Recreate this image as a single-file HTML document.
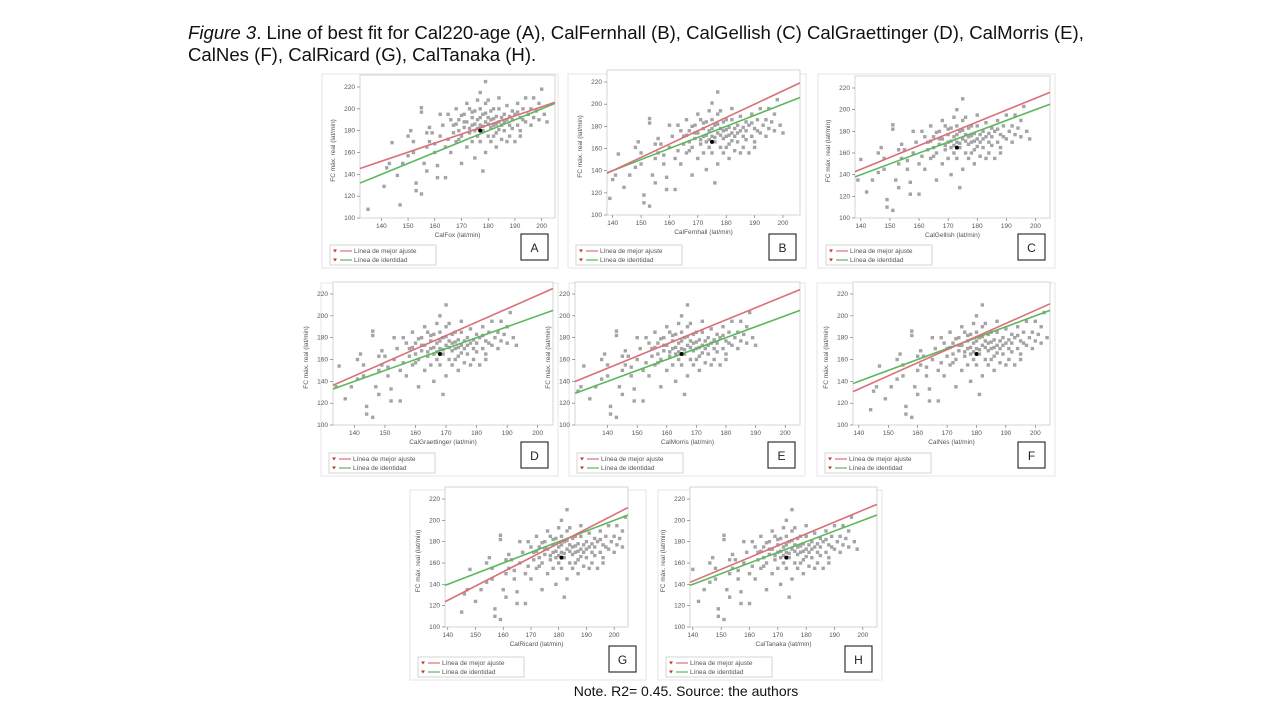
<!DOCTYPE html>
<html><head><meta charset="utf-8">
<style>
body{margin:0;background:#fff;}
svg{display:block;font-family:"Liberation Sans",sans-serif;}
</style></head>
<body>
<svg id="fig" width="1280" height="720">
<text x="188" y="39" font-size="18.6" fill="#111"><tspan font-style="italic">Figure 3</tspan>. Line of best fit for Cal220-age (A), CalFernhall (B), CalGellish (C) CalGraettinger (D), CalMorris (E),</text>
<text x="188" y="61" font-size="18.6" fill="#111">CalNes (F), CalRicard (G), CalTanaka (H).</text>
<text x="686" y="696" font-size="14" text-anchor="middle" fill="#111">Note. R2= 0.45. Source: the authors</text>
<g id="panels"></g>
</svg>
<script>
// panel meta
const letters=["A","B","C","D","E","F","G","H"];
const xTitles=["CalFox (lat/min)","CalFernhall (lat/min)","CalGellish (lat/min)","CalGraettinger (lat/min)","CalMorris (lat/min)","CalNes (lat/min)","CalRicard (lat/min)","CalTanaka (lat/min)"];
const xMins=[132,138,138,133,129,138,139,139];
const xMaxs=[205,206,205,205,205,205,205,205];
const centerX=[177,175,173,168,165,180,181,173];
const centerY=[180,166,165,165,165,165,165,165];
// best-fit lines: y at x=140 and x=205
const fitY140=[152,140,145,145,152,133,125,143];
const fitY205=[206,218,216,225,224,211,212,215];
const xTicks=[140,150,160,170,180,190,200];
const yTicks=[100,120,140,160,180,200,220];
// scatter cloud: [x offset from panel center, y]
const cloud=[[-42,108],[-36,129],[-35,146],[-34,150],[-33,169],[-31,139],[-30,112],[-29,150],[-27,157],[-27,175],[-26,180],[-25,170],[-24,132],[-24,125],[-22,122],[-22,201],[-22,197],[-21,150],[-20,165],[-20,143],[-19,170],[-19,183],[-18,178],[-17,160],[-17,168],[-16,137],[-16,148],[-15,175],[-14,185],[-13,137],[-13,165],[-12,195],[-12,172],[-11,160],[-10,178],[-10,185],[-9,170],[-8,180],[-8,190],[-7,150],[-7,175],[-6,183],[-6,195],[-5,165],[-5,188],[-4,178],[-4,200],[-3,170],[-3,185],[-3,192],[-2,155],[-2,180],[-2,198],[-1,175],[-1,190],[0,215],[0,185],[0,170],[0,200],[1,143],[1,180],[1,195],[2,225],[2,160],[2,188],[2,205],[3,175],[3,192],[4,170],[4,183],[4,198],[5,185],[5,200],[6,165],[6,178],[6,193],[7,188],[7,200],[8,172],[8,185],[9,195],[9,180],[10,190],[10,203],[11,175],[11,185],[12,198],[12,190],[13,170],[13,195],[14,185],[14,205],[15,192],[15,180],[16,200],[17,188],[17,210],[18,195],[19,185],[19,200],[20,210],[20,192],[21,198],[22,190],[22,205],[23,218],[24,195],[25,188],[-15,195],[-9,200],[-5,205],[3,208],[7,210],[-11,190],[-1,208],[5,175],[10,170],[15,175],[-20,178],[-25,160],[-6,188],[-2,186],[1,184],[4,190],[8,192],[12,182],[-8,172],[-4,182],[6,186],[9,188],[-7,194],[-3,197],[0,192],[2,196],[5,191],[-9,186],[-1,182],[3,186],[7,181],[11,193],[14,197],[16,190]];
// layout (pixel boxes)
const boxes=[[322,74,236,194],[568,74,238,194],[818,74,237,194],[321,283,237,193],[569,283,236,193],[817,283,238,193],[410,490,236,190],[658,490,224,190]];
const plots=[[360,83,555,218],[607,78,800,215],[855,84,1050,218],[333,290,553,425],[575,290,800,425],[853,290,1050,425],[445,495,628,627],[690,495,877,627]];
const NS="http://www.w3.org/2000/svg";
const root=document.getElementById("panels");
function mk(tag,attrs,parent){const e=document.createElementNS(NS,tag);for(const k in attrs)e.setAttribute(k,attrs[k]);parent.appendChild(e);return e;}
letters.forEach((L,i)=>{
  const g=mk("g",{},root);
  
  
  const [bx,by,bw,bh]=boxes[i];
  mk("rect",{x:bx,y:by,width:bw,height:bh,fill:"#fff",stroke:"#e4e4e4"},g);
  const [l,t,r,b]=plots[i];
  const sx=v=>l+(v-xMins[i])/(xMaxs[i]-xMins[i])*(r-l);
  const pl=mk("rect",{x:l,y:t-8,width:r-l,height:b-t+8,fill:"#fff",stroke:"#bbb","stroke-width":0.6},g);
  
  
  const Y=v=>b-(v-100)/120*(b-t-4);
  yTicks.forEach(v=>{const y=Y(v);
    mk("line",{x1:l-3,x2:l,y1:y,y2:y,stroke:"#666","stroke-width":0.6},g);
    const tx=mk("text",{x:l-5,y:y+2,"font-size":6.5,"text-anchor":"end",fill:"#555"},g);tx.textContent=v;
    
    });
  xTicks.forEach(v=>{const x=sx(v);if(x<l-1)return;
    mk("line",{x1:x,x2:x,y1:b,y2:b+3,stroke:"#666","stroke-width":0.6},g);
    const tx=mk("text",{x:x,y:b+10,"font-size":6.5,"text-anchor":"middle",fill:"#555"},g);tx.textContent=v;
    
    });
  const xt=mk("text",{x:(l+r)/2,y:b+19,"font-size":6.5,"text-anchor":"middle",fill:"#555"},g);xt.textContent=xTitles[i];
  
  
  const yt=mk("text",{x:0,y:0,"font-size":6.5,"text-anchor":"middle",fill:"#555",transform:`translate(${l-25},${(t+b)/2}) rotate(-90)`},g);yt.textContent="FC máx. real (lat/min)";
  
  
  const ps=mk("g",{fill:"#a4a4a4"},g);
  
  
  cloud.forEach(p=>{const x=sx(centerX[i]+p[0]),y=Y(p[1]+(centerY[i]-180));
    if(x<l+2||x>r-2||y>b-2||y<t-6)return;
    mk("rect",{x:x-1.7,y:y-1.7,width:3.4,height:3.4},ps);});
  const lx0=xMins[i],lx1=xMaxs[i];
  const gl=mk("line",{x1:sx(lx0),y1:Y(lx0),x2:sx(lx1),y2:Y(lx1),stroke:"#5cb85c","stroke-width":1.6},g);
  
  
  const slope=(fitY205[i]-fitY140[i])/65;
  const f=x=>fitY140[i]+slope*(x-140);
  const rl=mk("line",{x1:sx(lx0),y1:Y(f(lx0)),x2:sx(lx1),y2:Y(f(lx1)),stroke:"#d9707a","stroke-width":1.6},g);
  
  
  mk("circle",{cx:sx(centerX[i]),cy:Y(centerY[i]),r:2,fill:"#000"},g);
  const lg=mk("g",{},g);
  
  
  const ly=by+bh-23;
  mk("rect",{x:bx+8,y:ly,width:106,height:20,fill:"#fff",stroke:"#bbb","stroke-width":0.6},lg);
  [["Línea de mejor ajuste","#d9707a"],["Línea de identidad","#5cb85c"]].forEach((e,k)=>{
    const yy=ly+6+k*9;
    mk("path",{d:`M${bx+11},${yy-1.5} l4,0 l-2,3 z`,fill:"#c0392b"},lg);
    mk("line",{x1:bx+18,x2:bx+30,y1:yy,y2:yy,stroke:e[1],"stroke-width":1.2},lg);
    const tx=mk("text",{x:bx+32,y:yy+2.2,"font-size":6.5,fill:"#555"},lg);tx.textContent=e[0];
    
    
  });
  const lb=mk("rect",{x:bx+bw-37,y:by+bh-34,width:27,height:26,fill:"#fff",stroke:"#333","stroke-width":1.2},g);
  
  
  const lt=mk("text",{x:bx+bw-23.5,y:by+bh-16,"font-size":12,"text-anchor":"middle",fill:"#222"},g);lt.textContent=L;
  
  
});
</script>
</body></html>
